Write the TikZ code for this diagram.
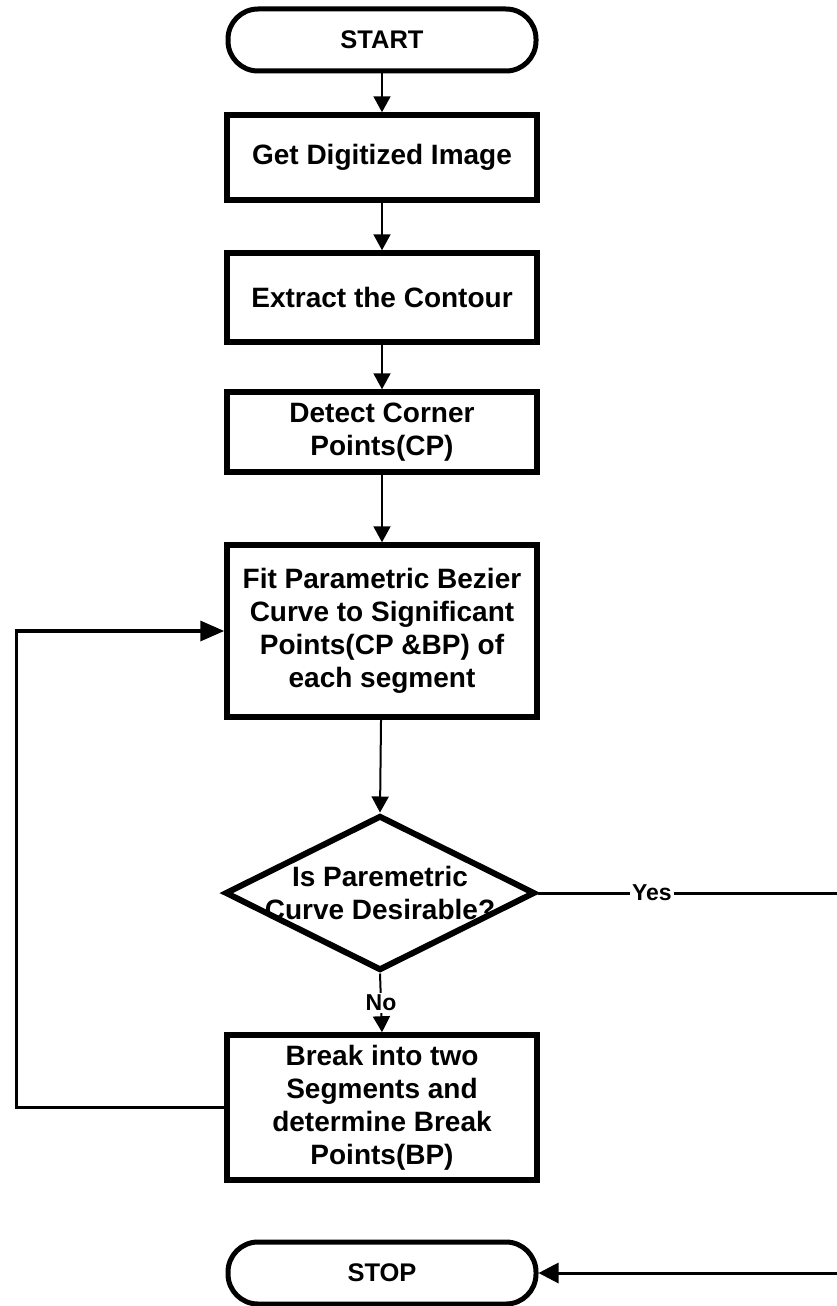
\documentclass[tikz,border=0pt]{standalone}
\usepackage{fontspec}
\setmainfont{Liberation Sans}
\usetikzlibrary{shapes.geometric,arrows.meta}
\begin{document}
\begin{tikzpicture}[x=1pt,y=-1pt,
  terminal/.style={draw, line width=5pt, rounded corners=30pt, minimum width=308pt,
    minimum height=62pt, inner sep=0pt, font=\fontsize{25.5}{30}\selectfont\bfseries},
  process/.style={draw, line width=5.5pt, minimum width=310pt, inner sep=0pt,
    align=center, font=\fontsize{28}{33}\selectfont\bfseries},
  decision/.style={draw, diamond, line width=6pt, minimum width=310pt,
    minimum height=155pt, inner sep=0pt},
  decisiontext/.style={align=center, inner sep=0pt, font=\fontsize{28}{33}\selectfont\bfseries},
  flow/.style={line width=2pt, -{Triangle[length=16pt,width=17pt]}},
  loopline/.style={line width=3.5pt, -{Triangle[length=24pt,width=20pt]}},
  yesline/.style={line width=3pt, -{Triangle[length=20pt,width=20pt]}},
  lbl/.style={fill=white, inner sep=2pt, font=\fontsize{23}{27}\selectfont\bfseries}
]
\useasboundingbox (0,0) rectangle (837,1306);
\clip (0,0) rectangle (837,1306);

% flowchart steps
\node[terminal] (start) at (382,40) {START};
\node[process, minimum height=85pt] (get) at (382,157.5) {Get Digitized Image};
\node[process, minimum height=89pt] (extract) at (382,297.5) {Extract the Contour};
\node[process, minimum height=80pt] (detect) at (382,432) {Detect Corner\\Points(CP)};
\node[process, minimum height=172pt] (fit) at (382,631)
  {Fit Parametric Bezier\\Curve to Significant\\Points(CP \&BP) of\\each segment};
\node[decision] (dec) at (380,893) {};
\node[decisiontext] (decText) at (dec.center) {Is Paremetric\\Curve Desirable?};
\node[process, minimum height=145pt] (brk) at (382,1107.5)
  {Break into two\\Segments and\\determine Break\\Points(BP)};
\node[terminal] (stop) at (382,1273) {STOP};

% the "Yes" branch leaves the frame on the right and comes back to STOP
\coordinate (yesTurn) at (880,893);

% connectors
\draw[flow] (start) -- (get);
\draw[flow] (get) -- (extract);
\draw[flow] (extract) -- (detect);
\draw[flow] (detect) -- (fit);
\draw[flow] (fit) -- (dec.north);
\draw[flow] (dec.south) -- node[lbl] (noLbl) {No} (brk.north);
\draw[loopline] (brk.west) -- ++(-208,0) |- (fit.west);
\draw[yesline] (dec.east) -- node[lbl, pos=0.333] (yesLbl) {Yes} (yesTurn) |- (stop.east);
\end{tikzpicture}
\end{document}
